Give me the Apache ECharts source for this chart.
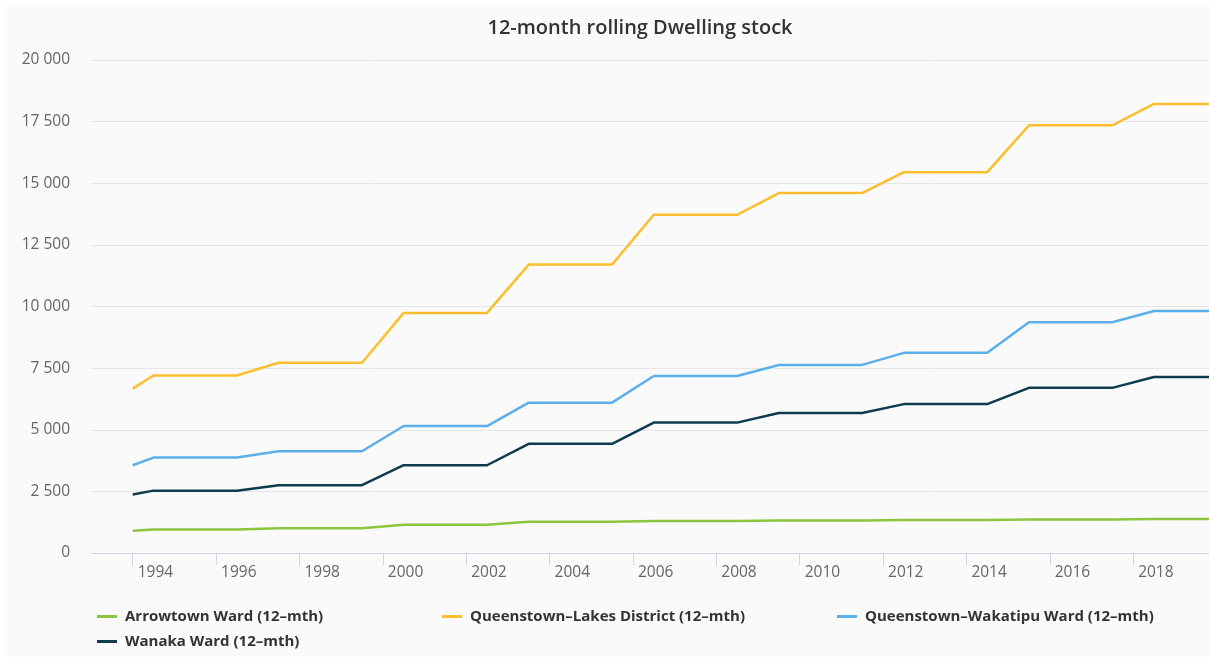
<!DOCTYPE html>
<html>
<head>
<meta charset="utf-8">
<script src="https://cdn.jsdelivr.net/npm/echarts@6/dist/echarts.min.js"></script>
<style>
html,body{margin:0;padding:0;background:#ffffff;}
#chart{width:1209px;height:657px;}
</style>
</head>
<body>
<div id="chart"></div>
<script>
const titleText = '12-month rolling Dwelling stock';
const seriesNames = ['Arrowtown Ward (12–mth)', 'Queenstown–Lakes District (12–mth)', 'Queenstown–Wakatipu Ward (12–mth)', 'Wanaka Ward (12–mth)'];
const years = [1994.0, 1994.5, 1995.5, 1996.5, 1997.5, 1998.5, 1999.5, 2000.5, 2001.5, 2002.5, 2003.5, 2004.5, 2005.5, 2006.5, 2007.5, 2008.5, 2009.5, 2010.5, 2011.5, 2012.5, 2013.5, 2014.5, 2015.5, 2016.5, 2017.5, 2018.5, 2019.5, 2020.0];
const arrowtown = [905, 950, 950, 950, 1000, 1000, 1000, 1150, 1150, 1150, 1265, 1265, 1265, 1300, 1300, 1300, 1320, 1320, 1320, 1335, 1335, 1335, 1355, 1355, 1355, 1375, 1375, 1375];
const queenstownLakes = [6670, 7200, 7200, 7200, 7720, 7720, 7720, 9740, 9740, 9740, 11700, 11700, 11700, 13720, 13720, 13720, 14600, 14600, 14600, 15450, 15450, 15450, 17350, 17350, 17350, 18220, 18220, 18220];
const wakatipu = [3560, 3870, 3870, 3870, 4130, 4130, 4130, 5150, 5150, 5150, 6100, 6100, 6100, 7180, 7180, 7180, 7630, 7630, 7630, 8120, 8120, 8120, 9360, 9360, 9360, 9820, 9820, 9820];
const wanaka = [2370, 2530, 2530, 2530, 2750, 2750, 2750, 3560, 3560, 3560, 4430, 4430, 4430, 5290, 5290, 5290, 5680, 5680, 5680, 6040, 6040, 6040, 6700, 6700, 6700, 7140, 7140, 7140];
const xTickYears = [1994, 1996, 1998, 2000, 2002, 2004, 2006, 2008, 2010, 2012, 2014, 2016, 2018];
const colors = ['#8cc63f', '#fcbe2e', '#5cb0ea', '#0d3c4c'];

const allValues = [arrowtown, queenstownLakes, wakatipu, wanaka];
const fmt = v => String(v).replace(/\B(?=(\d{3})+(?!\d))/g, ' ');

const legendPos = [[97, 609], [442, 609], [837, 609], [97, 634]];

const chart = echarts.init(document.getElementById('chart'), null, {renderer: 'canvas'});
chart.setOption({
  animation: false,
  backgroundColor: '#ffffff',
  color: colors,
  graphic: [{
    type: 'rect', left: 7, top: 5, z: -100, silent: true,
    shape: {width: 1202, height: 652},
    style: {fill: '#fafafa'}
  }],
  title: {
    text: titleText,
    left: 640, top: 18, textAlign: 'center', padding: 0,
    textStyle: {fontFamily: 'Open Sans', fontSize: 20, fontWeight: 600, color: '#333333'}
  },
  legend: legendPos.map((p, i) => ({
    data: [seriesNames[i]],
    left: p[0], top: p[1], padding: 0,
    icon: 'rect', itemWidth: 20, itemHeight: 3,
    textStyle: {fontFamily: 'Open Sans', fontSize: 15, fontWeight: 'bold', color: '#333333', padding: [0, 0, 0, 3]},
    selectedMode: false
  })),
  grid: {left: 91, right: 0, top: 60, bottom: 104, containLabel: false},
  xAxis: {
    type: 'value', min: 1993, max: 2019.82,
    axisLine: {show: true, lineStyle: {color: '#ccd6eb', width: 1}},
    axisTick: {show: true, length: 12, customValues: xTickYears, lineStyle: {color: '#ccd6eb'}},
    axisLabel: {
      customValues: xTickYears, align: 'left', padding: [0, 0, 0, 5], margin: 12,
      fontFamily: 'Open Sans', fontSize: 15.5, color: '#666666',
      formatter: v => String(Math.round(v))
    },
    splitLine: {show: false}
  },
  yAxis: {
    type: 'value', min: 0, max: 20000, interval: 2500,
    axisLine: {show: false}, axisTick: {show: false},
    axisLabel: {margin: 21, fontFamily: 'Open Sans', fontSize: 15.5, color: '#666666', formatter: fmt},
    splitLine: {show: true, lineStyle: {color: '#e6e6e6', width: 1}}
  },
  series: allValues.map((vals, i) => ({
    name: seriesNames[i],
    type: 'line',
    data: years.map((y, k) => [y, vals[k]]),
    symbol: 'none',
    lineStyle: {width: 2.5, color: colors[i]},
    itemStyle: {color: colors[i]},
    clip: true
  }))
});
</script>
</body>
</html>
